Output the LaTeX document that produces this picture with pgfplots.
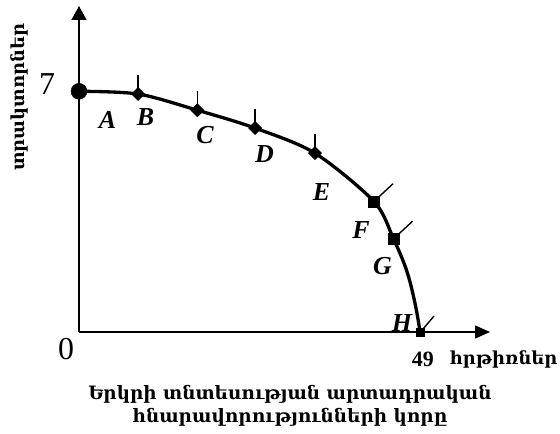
\documentclass[border=0pt]{standalone}
\usepackage{fontspec}
\setmainfont{Liberation Serif}
\newfontfamily\armfont[Script=Armenian]{DejaVu Serif}
\usepackage{pgfplots}
\pgfplotsset{compat=1.18}
\usetikzlibrary{arrows.meta}

\pgfdeclareplotmark{pindiamond}{%
  \pgfpathmoveto{\pgfqpoint{0bp}{7bp}}%
  \pgfpathlineto{\pgfqpoint{7bp}{0bp}}%
  \pgfpathlineto{\pgfqpoint{0bp}{-7bp}}%
  \pgfpathlineto{\pgfqpoint{-7bp}{0bp}}%
  \pgfpathclose\pgfusepathqfill
  \pgfsetlinewidth{1.4bp}%
  \pgfpathmoveto{\pgfqpoint{0bp}{5bp}}%
  \pgfpathlineto{\pgfqpoint{0bp}{19bp}}%
  \pgfusepathqstroke}
\pgfdeclareplotmark{pinsquare}{%
  \pgfpathrectangle{\pgfqpoint{-6bp}{-6bp}}{\pgfqpoint{12bp}{12bp}}%
  \pgfusepathqfill
  \pgfsetlinewidth{1.4bp}%
  \pgfpathmoveto{\pgfqpoint{5bp}{5bp}}%
  \pgfpathlineto{\pgfqpoint{19bp}{18bp}}%
  \pgfusepathqstroke}
\pgfdeclareplotmark{pinsquaresmall}{%
  \pgfpathrectangle{\pgfqpoint{-4.5bp}{-4.5bp}}{\pgfqpoint{9bp}{9bp}}%
  \pgfusepathqfill
  \pgfsetlinewidth{1.4bp}%
  \pgfpathmoveto{\pgfqpoint{3bp}{3bp}}%
  \pgfpathlineto{\pgfqpoint{14bp}{16bp}}%
  \pgfusepathqstroke}

\begin{document}
\begin{tikzpicture}
\begin{axis}[
  scale only axis,
  width=411bp, height=326bp,
  xmin=0, xmax=59.05, ymin=0, ymax=9.48,
  axis lines=left,
  axis line style={line width=1.3bp},
  x axis line style={-{Triangle[length=15bp,width=13bp]}},
  y axis line style={-{Triangle[length=14bp,width=15bp]}},
  xtick=\empty, ytick=\empty,
  clip=false,
]
\coordinate (O) at (axis cs:0,0);
% frontier
\addplot[black, line width=3.3bp, smooth, tension=0.5] coordinates {
  (0,7) (8.5,6.92) (17.0,6.45) (25.3,5.93) (33.9,5.2) (42.4,3.79)
  (45.2,2.7) (46.7,2.0) (47.5,1.5) (48.1,1.0) (48.6,0.5) (49,0)
};
% points
\addplot[only marks, mark=*, mark size=8bp, black] coordinates {(0,7)};
\addplot[only marks, mark=pindiamond, black] coordinates {
  (8.5,6.92) (17.0,6.45) (25.3,5.93) (33.9,5.2)
};
\addplot[only marks, mark=pinsquare, black] coordinates {(42.4,3.79) (45.2,2.7)};
\addplot[only marks, mark=pinsquaresmall, black] coordinates {(49,0)};
% letters
\node[font=\fontsize{26}{28}\selectfont\bfseries\itshape, inner sep=0pt] at (axis cs:4.1,6.16) {A};
\node[font=\fontsize{26}{28}\selectfont\bfseries\itshape, inner sep=0pt] at (axis cs:9.55,6.24) {B};
\node[font=\fontsize{26}{28}\selectfont\bfseries\itshape, inner sep=0pt] at (axis cs:18.1,5.73) {C};
\node[font=\fontsize{26}{28}\selectfont\bfseries\itshape, inner sep=0pt] at (axis cs:26.65,5.17) {D};
\node[font=\fontsize{26}{28}\selectfont\bfseries\itshape, inner sep=0pt] at (axis cs:34.84,4.06) {E};
\node[font=\fontsize{26}{28}\selectfont\bfseries\itshape, inner sep=0pt] at (axis cs:40.5,2.98) {F};
\node[font=\fontsize{26}{28}\selectfont\bfseries\itshape, inner sep=0pt] at (axis cs:43.6,1.93) {G};
\node[font=\fontsize{26}{28}\selectfont\bfseries\itshape, inner sep=0pt] at (axis cs:46.4,0.26) {H};
% numbers
\node[font=\fontsize{32}{36}\selectfont, inner sep=0pt] at (axis cs:-4.6,7.22) {7};
\node[font=\fontsize{32}{36}\selectfont, inner sep=0pt] at (axis cs:-1.87,-0.49) {0};
\node[font=\fontsize{22}{24}\selectfont\bfseries, inner sep=0pt] at (axis cs:49.4,-0.80) {49};
\node[font=\fontsize{18}{22}\selectfont\armfont\bfseries, inner sep=0pt] at (axis cs:61.0,-0.80) {հրթիռներ};
\node[font=\fontsize{18}{22}\selectfont\armfont\bfseries, inner sep=0pt, rotate=90] at (axis cs:-8.6,6.83) {տրակտորներ};
\node[font=\fontsize{18.5}{22.5}\selectfont\armfont\bfseries, inner sep=0pt, align=center] at (axis cs:30.3,-2.15) {Երկրի տնտեսության արտադրական\\հնարավորությունների կորը};
\end{axis}
\pgfresetboundingbox
\path ([shift={(-79bp,-102bp)}]O) rectangle ([shift={(481bp,332bp)}]O);
\end{tikzpicture}
\end{document}
